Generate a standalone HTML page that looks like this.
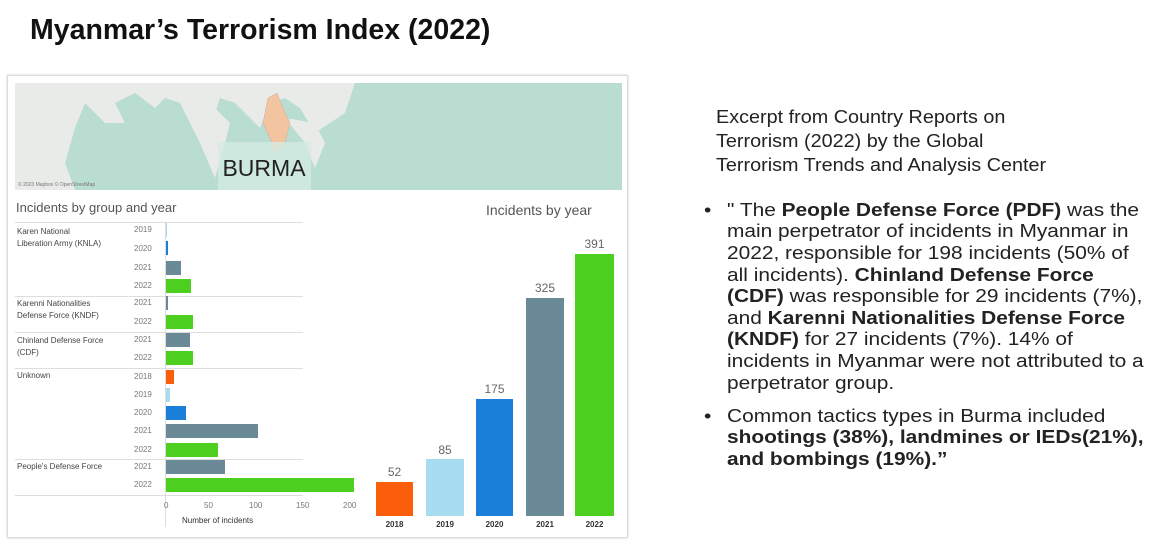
<!DOCTYPE html>
<html><head><meta charset="utf-8"><style>
body{margin:0;width:1170px;height:550px;background:#fff;position:relative;overflow:hidden;font-family:"Liberation Sans",sans-serif}
.a{position:absolute;white-space:nowrap}
.t{font-size:18px;color:#222;line-height:20px;transform:scaleX(1.16);transform-origin:0 0}
.h{transform:scaleX(1.1)}
.lab{font-size:8px;color:#444}
.yr{font-size:8px;color:#777}
.bar{position:absolute;height:14px}
.sep{position:absolute;left:15px;width:288px;height:1px;background:#ddd}
</style></head><body>
<div class="a" style="left:30px;top:14px;font-size:28.5px;font-weight:bold;color:#111">Myanmar’s Terrorism Index (2022)</div>

<div class="a" style="left:7px;top:75px;width:619px;height:461px;border:1px solid #ddd;box-shadow:0 0 2px #ccc"></div>
<svg class="a" style="left:15px;top:83px" width="607" height="107">
<rect width="607" height="107" fill="#b9ddd0"/>
<path d="M0 0 H340 L330 30 L300 50 L285 25 L270 15 L255 20 L245 45 L235 35 L220 20 L205 15 L195 45 L180 45 L165 20 L150 15 L140 25 L120 10 L100 20 L110 40 L90 40 L70 20 L60 45 L50 80 L60 107 H0Z" fill="#e8ebe8"/>
<path d="M165 20 L185 60 L200 95 L210 60 L215 40 L200 25Z" fill="#e8ebe8"/>
<path d="M270 35 L290 60 L300 85 L310 60 L300 40Z" fill="#e8ebe8"/>
<path d="M253 15 L262 10 L268 25 L275 40 L270 60 L260 70 L255 55 L248 40Z" fill="#f2c5a0" stroke="#caa" stroke-width=".5"/>
<rect x="203" y="59" width="93" height="48" fill="#d4ebe2" opacity=".8"/>
<text x="249" y="93" font-size="23" text-anchor="middle" fill="#222" font-family="Liberation Sans">BURMA</text>
<text x="3" y="103" font-size="5" fill="#777">© 2023 Mapbox © OpenStreetMap</text>
</svg>
<div class="a" style="left:16px;top:200px;font-size:13px;color:#555">Incidents by group and year</div>
<div class="a" style="left:486px;top:202px;font-size:14px;color:#555">Incidents by year</div>

<div class="a" style="left:165px;top:222px;width:1px;height:305px;background:#ddd"></div>
<div class="sep" style="top:222px"></div>
<div class="sep" style="top:296px"></div>
<div class="sep" style="top:332px"></div>
<div class="sep" style="top:368px"></div>
<div class="sep" style="top:459px"></div>
<div class="sep" style="top:495px"></div>

<div class="a lab" style="left:17px;top:226px;line-height:12px">Karen National<br>Liberation Army (KNLA)</div>
<div class="a lab" style="left:17px;top:298px;line-height:12px">Karenni Nationalities<br>Defense Force (KNDF)</div>
<div class="a lab" style="left:17px;top:335px;line-height:12px">Chinland Defense Force<br>(CDF)</div>
<div class="a lab" style="left:17px;top:371px">Unknown</div>
<div class="a lab" style="left:17px;top:462px">People's Defense Force</div>

<div class="a yr" style="left:134px;top:225px">2019</div>
<div class="a yr" style="left:134px;top:244px">2020</div>
<div class="a yr" style="left:134px;top:263px">2021</div>
<div class="a yr" style="left:134px;top:281px">2022</div>
<div class="a yr" style="left:134px;top:298px">2021</div>
<div class="a yr" style="left:134px;top:317px">2022</div>
<div class="a yr" style="left:134px;top:335px">2021</div>
<div class="a yr" style="left:134px;top:353px">2022</div>
<div class="a yr" style="left:134px;top:372px">2018</div>
<div class="a yr" style="left:134px;top:390px">2019</div>
<div class="a yr" style="left:134px;top:408px">2020</div>
<div class="a yr" style="left:134px;top:426px">2021</div>
<div class="a yr" style="left:134px;top:445px">2022</div>
<div class="a yr" style="left:134px;top:462px">2021</div>
<div class="a yr" style="left:134px;top:480px">2022</div>

<div class="bar" style="left:166px;top:223px;width:1px;background:#a8dcf0"></div>
<div class="bar" style="left:166px;top:241px;width:2px;background:#1a7fd8"></div>
<div class="bar" style="left:166px;top:261px;width:15px;background:#6a8a97"></div>
<div class="bar" style="left:166px;top:279px;width:25px;background:#4ccf1e"></div>
<div class="bar" style="left:166px;top:296px;width:2px;background:#6a8a97"></div>
<div class="bar" style="left:166px;top:315px;width:27px;background:#4ccf1e"></div>
<div class="bar" style="left:166px;top:333px;width:24px;background:#6a8a97"></div>
<div class="bar" style="left:166px;top:351px;width:27px;background:#4ccf1e"></div>
<div class="bar" style="left:166px;top:370px;width:8px;background:#fa5e0a"></div>
<div class="bar" style="left:166px;top:388px;width:4px;background:#a8dcf0"></div>
<div class="bar" style="left:166px;top:406px;width:20px;background:#1a7fd8"></div>
<div class="bar" style="left:166px;top:424px;width:92px;background:#6a8a97"></div>
<div class="bar" style="left:166px;top:443px;width:52px;background:#4ccf1e"></div>
<div class="bar" style="left:166px;top:460px;width:59px;background:#6a8a97"></div>
<div class="bar" style="left:166px;top:478px;width:188px;background:#4ccf1e"></div>

<div class="a yr" style="left:164px;top:501px">0</div>
<div class="a yr" style="left:204px;top:501px">50</div>
<div class="a yr" style="left:249px;top:501px">100</div>
<div class="a yr" style="left:296px;top:501px">150</div>
<div class="a yr" style="left:343px;top:501px">200</div>
<div class="a" style="left:182px;top:516px;font-size:8px;color:#333">Number of incidents</div>

<div class="a" style="left:376px;top:482px;width:37px;height:34px;background:#fa5e0a"></div>
<div class="a" style="left:426px;top:459px;width:38px;height:57px;background:#a8dcf0"></div>
<div class="a" style="left:476px;top:399px;width:37px;height:117px;background:#1a7fd8"></div>
<div class="a" style="left:526px;top:298px;width:38px;height:218px;background:#6a8a97"></div>
<div class="a" style="left:575px;top:254px;width:39px;height:262px;background:#4ccf1e"></div>
<div class="a" style="left:376px;top:465px;width:37px;text-align:center;font-size:12px;color:#666">52</div>
<div class="a" style="left:426px;top:443px;width:38px;text-align:center;font-size:12px;color:#666">85</div>
<div class="a" style="left:476px;top:382px;width:37px;text-align:center;font-size:12px;color:#666">175</div>
<div class="a" style="left:526px;top:281px;width:38px;text-align:center;font-size:12px;color:#666">325</div>
<div class="a" style="left:575px;top:237px;width:39px;text-align:center;font-size:12px;color:#666">391</div>
<div class="a" style="left:376px;top:520px;width:37px;text-align:center;font-size:8px;font-weight:bold;color:#333">2018</div>
<div class="a" style="left:426px;top:520px;width:38px;text-align:center;font-size:8px;font-weight:bold;color:#333">2019</div>
<div class="a" style="left:476px;top:520px;width:37px;text-align:center;font-size:8px;font-weight:bold;color:#333">2020</div>
<div class="a" style="left:526px;top:520px;width:38px;text-align:center;font-size:8px;font-weight:bold;color:#333">2021</div>
<div class="a" style="left:575px;top:520px;width:39px;text-align:center;font-size:8px;font-weight:bold;color:#333">2022</div>

<div class="a t h" style="left:716px;top:107px">Excerpt from Country Reports on</div>
<div class="a t h" style="left:716px;top:131px">Terrorism (2022) by the Global</div>
<div class="a t h" style="left:716px;top:155px">Terrorism Trends and Analysis Center</div>

<div class="a t" style="left:704px;top:200px">•</div>
<div class="a t" style="left:727px;top:200px">" The <b>People Defense Force (PDF)</b> was the</div>
<div class="a t" style="left:727px;top:221px">main perpetrator of incidents in Myanmar in</div>
<div class="a t" style="left:727px;top:243px">2022, responsible for 198 incidents (50% of</div>
<div class="a t" style="left:727px;top:265px">all incidents). <b>Chinland Defense Force</b></div>
<div class="a t" style="left:727px;top:286px"><b>(CDF)</b> was responsible for 29 incidents (7%),</div>
<div class="a t" style="left:727px;top:308px">and <b>Karenni Nationalities Defense Force</b></div>
<div class="a t" style="left:727px;top:329px"><b>(KNDF)</b> for 27 incidents (7%). 14% of</div>
<div class="a t" style="left:727px;top:351px">incidents in Myanmar were not attributed to a</div>
<div class="a t" style="left:727px;top:373px">perpetrator group.</div>

<div class="a t" style="left:704px;top:406px">•</div>
<div class="a t" style="left:727px;top:406px">Common tactics types in Burma included</div>
<div class="a t" style="left:727px;top:427px"><b>shootings (38%), landmines or IEDs(21%),</b></div>
<div class="a t" style="left:727px;top:449px"><b>and bombings (19%).”</b></div>
</body></html>
